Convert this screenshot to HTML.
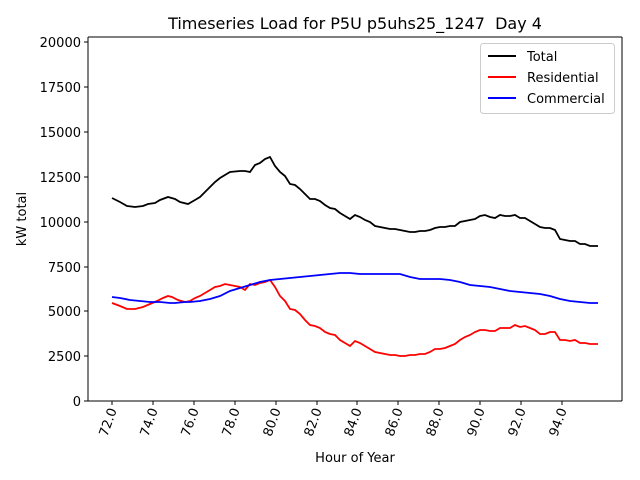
<!DOCTYPE html>
<html><head><meta charset="utf-8"><style>body{margin:0;background:#fff}svg{display:block;font-family:"DejaVu Sans","Liberation Sans",sans-serif}</style></head><body>
<svg width="640" height="480" viewBox="0 0 640 480">
<rect width="640" height="480" fill="#fff"/>
<text x="355" y="29" font-size="16" text-anchor="middle">Timeseries Load for P5U p5uhs25_1247 &#160;Day 4</text>
<g stroke="#000" stroke-width="1">
<line x1="88" y1="401" x2="88" y2="37"/><line x1="622" y1="401" x2="622" y2="37"/>
<line x1="88" y1="37" x2="622" y2="37"/><line x1="88" y1="401" x2="622" y2="401"/>
</g>
<g font-size="13" text-anchor="end" fill="#000">
<g stroke="#000"><line x1="84" y1="401" x2="88" y2="401"/><line x1="84" y1="356" x2="88" y2="356"/><line x1="84" y1="311" x2="88" y2="311"/><line x1="84" y1="267" x2="88" y2="267"/><line x1="84" y1="222" x2="88" y2="222"/><line x1="84" y1="177" x2="88" y2="177"/><line x1="84" y1="132" x2="88" y2="132"/><line x1="84" y1="87" x2="88" y2="87"/><line x1="84" y1="42" x2="88" y2="42"/></g>
<text x="81" y="406">0</text><text x="81" y="361">2500</text><text x="81" y="316">5000</text><text x="81" y="272">7500</text><text x="81" y="227">10000</text><text x="81" y="182">12500</text><text x="81" y="137">15000</text><text x="81" y="92">17500</text><text x="81" y="47">20000</text>
</g>
<g stroke="#000">
<line x1="112" y1="401" x2="112" y2="405"/><line x1="153" y1="401" x2="153" y2="405"/><line x1="194" y1="401" x2="194" y2="405"/><line x1="235" y1="401" x2="235" y2="405"/><line x1="276" y1="401" x2="276" y2="405"/><line x1="317" y1="401" x2="317" y2="405"/><line x1="357" y1="401" x2="357" y2="405"/><line x1="398" y1="401" x2="398" y2="405"/><line x1="439" y1="401" x2="439" y2="405"/><line x1="480" y1="401" x2="480" y2="405"/><line x1="521" y1="401" x2="521" y2="405"/><line x1="562" y1="401" x2="562" y2="405"/>
</g>
<g font-size="13" text-anchor="end">
<text transform="translate(117,410) rotate(-70)">72.0</text><text transform="translate(158,410) rotate(-70)">74.0</text><text transform="translate(199,410) rotate(-70)">76.0</text><text transform="translate(240,410) rotate(-70)">78.0</text><text transform="translate(281,410) rotate(-70)">80.0</text><text transform="translate(322,410) rotate(-70)">82.0</text><text transform="translate(362,410) rotate(-70)">84.0</text><text transform="translate(403,410) rotate(-70)">86.0</text><text transform="translate(444,410) rotate(-70)">88.0</text><text transform="translate(485,410) rotate(-70)">90.0</text><text transform="translate(526,410) rotate(-70)">92.0</text><text transform="translate(567,410) rotate(-70)">94.0</text>
</g>
<text x="355" y="462" font-size="13" text-anchor="middle">Hour of Year</text>
<text transform="translate(26,219) rotate(-90)" font-size="13" text-anchor="middle">kW total</text>
<g fill="none" stroke-width="1.8">
<polyline stroke="#000" points="112,198 120,202 127,206 135,207 143,206 148,204 155,203 160,200 168,197 175,199 180,202 188,204 195,200 200,197 205,192 210,187 215,182 220,178 230,172 240,171 245,171 250,172 255,165 260,163 265,159 270,157 275,166 280,172 285,176 290,184 295,185 300,189 305,194 310,199 315,199 320,201 325,205 330,208 335,209 340,213 345,216 350,219 355,215 360,217 365,220 370,222 375,226 380,227 385,228 390,229 395,229 400,230 405,231 410,232 415,232 420,231 425,231 430,230 435,228 440,227 445,227 450,226 455,226 460,222 465,221 470,220 475,219 480,216 485,215 490,217 495,218 500,215 505,216 510,216 515,215 520,218 525,218 530,221 535,224 540,227 545,228 550,228 555,230 560,239 565,240 570,241 575,241 580,244 585,244 590,246 598,246"/>
<polyline stroke="#f00" points="112,303 120,306 127,309 135,309 143,307 150,304 157,301 163,298 168,296 172,297 178,300 185,302 190,301 195,298 200,296 205,293 210,290 215,287 220,286 225,284 230,285 235,286 240,287 245,290 250,284 255,285 260,283 265,282 270,280 275,287 280,296 285,301 290,309 295,310 300,314 305,320 310,325 315,326 320,328 325,332 330,334 335,335 340,340 345,343 350,346 355,341 360,343 365,346 370,349 375,352 380,353 385,354 390,355 395,355 400,356 405,356 410,355 415,355 420,354 425,354 430,352 435,349 440,349 445,348 450,346 455,344 460,340 465,337 470,335 475,332 480,330 485,330 490,331 495,331 500,328 505,328 510,328 515,325 520,327 525,326 530,328 535,330 540,334 545,334 550,332 555,332 560,340 565,340 570,341 575,340 580,343 585,343 590,344 598,344"/>
<polyline stroke="#00f" points="112,297 120,298 130,300 140,301 150,302 160,302 170,303 175,303 185,302 190,302 200,301 210,299 220,296 230,291 240,288 250,285 260,282 270,280 280,279 290,278 300,277 310,276 320,275 330,274 340,273 350,273 360,274 370,274 380,274 390,274 400,274 410,277 420,279 430,279 440,279 450,280 460,282 470,285 480,286 490,287 500,289 510,291 520,292 530,293 540,294 550,296 560,299 570,301 580,302 590,303 598,303"/>
</g>
<rect x="480.5" y="43.5" width="134" height="70" rx="3" fill="#fff" stroke="#ccc"/>
<g stroke-width="2"><line x1="488" y1="56" x2="516" y2="56" stroke="#000"/><line x1="488" y1="77" x2="516" y2="77" stroke="#f00"/><line x1="488" y1="98" x2="516" y2="98" stroke="#00f"/></g>
<g font-size="13"><text x="527" y="61">Total</text><text x="527" y="82">Residential</text><text x="527" y="103">Commercial</text></g>
</svg>
</body></html>
